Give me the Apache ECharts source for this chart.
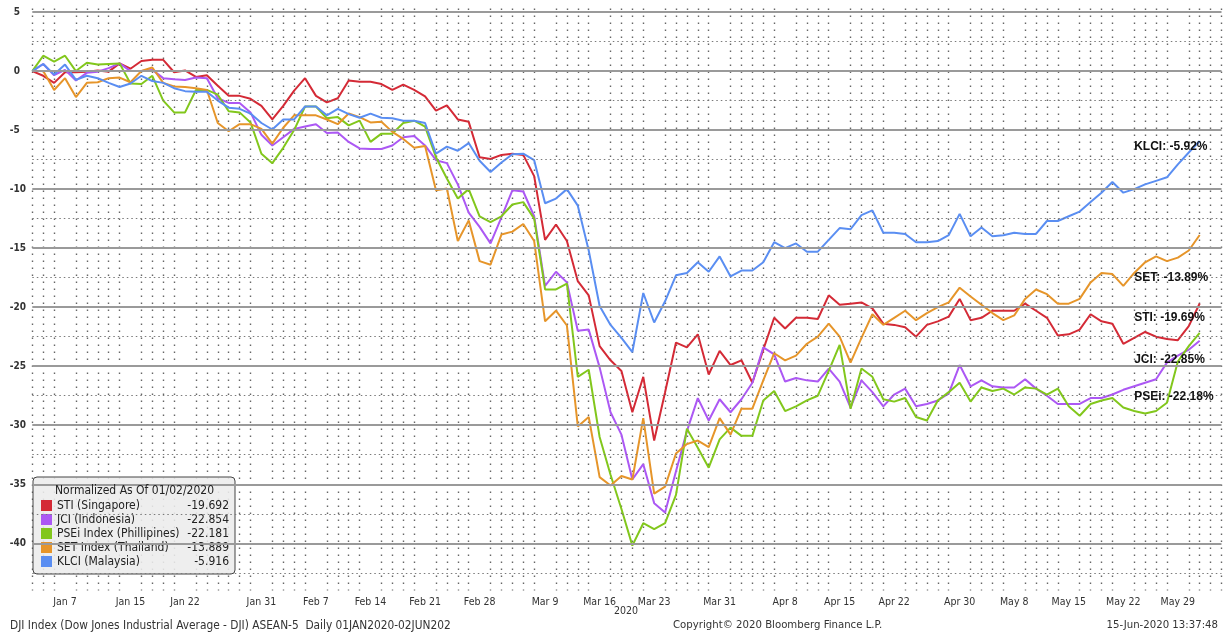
<!DOCTYPE html>
<html>
<head>
<meta charset="utf-8">
<script src="https://cdn.jsdelivr.net/npm/echarts@6/dist/echarts.min.js"></script>
<style>
  html, body { margin: 0; padding: 0; background: #fff; }
  #chart { width: 1223px; height: 635px; }
</style>
</head>
<body>
<div id="chart"></div>
<script>
// ---- categories (trading days on the chart's calendar) ----
const dates = [
  'Jan 2','Jan 3','Jan 6','Jan 7','Jan 8','Jan 9','Jan 10','Jan 13','Jan 14','Jan 15','Jan 16','Jan 17',
  'Jan 20','Jan 21','Jan 22','Jan 23','Jan 24','Jan 27','Jan 28','Jan 29','Jan 30','Jan 31',
  'Feb 3','Feb 4','Feb 5','Feb 6','Feb 7','Feb 10','Feb 11','Feb 12','Feb 13','Feb 14',
  'Feb 17','Feb 18','Feb 19','Feb 20','Feb 21','Feb 24','Feb 25','Feb 26','Feb 27','Feb 28',
  'Mar 2','Mar 3','Mar 4','Mar 5','Mar 6','Mar 9','Mar 10','Mar 11','Mar 12','Mar 13',
  'Mar 16','Mar 17','Mar 18','Mar 19','Mar 20','Mar 23','Mar 24','Mar 25','Mar 26','Mar 27','Mar 30','Mar 31',
  'Apr 1','Apr 2','Apr 3','Apr 6','Apr 7','Apr 8','Apr 9','Apr 10','Apr 13','Apr 14','Apr 15','Apr 16','Apr 17',
  'Apr 20','Apr 21','Apr 22','Apr 23','Apr 24','Apr 27','Apr 28','Apr 29','Apr 30',
  'May 4','May 5','May 6','May 7','May 8','May 11','May 12','May 13','May 14','May 15',
  'May 18','May 19','May 20','May 21','May 22','May 25','May 26','May 27','May 28','May 29',
  'Jun 1','Jun 2'
];
// empty slots after the last day (right margin of the plot)
const padDates = ['Jun 3','Jun 4'];

// ---- tick labels ----
const tickLabels = ['Jan 7','Jan 15','Jan 22','Jan 31','Feb 7','Feb 14','Feb 21','Feb 28','Mar 9','Mar 16',
  'Mar 23','Mar 31','Apr 8','Apr 15','Apr 22','Apr 30','May 8','May 15','May 22','May 29'];
const yearLabel = '2020';
const yTicks = [5, 0, -5, -10, -15, -20, -25, -30, -35, -40];
const yMinorLevels = [2.5, -2.5, -7.5, -12.5, -17.5, -22.5, -27.5, -32.5, -37.5, -42.5];

// ---- series values (% change, normalized to 01/02/2020) ----
const sti = [0, -0.4, -1.0, -0.1, -0.1, -0.05, 0.05, -0.05, 0.65, 0.2,
  0.85, 0.95, 0.95, -0.1, 0.05, -0.5, -0.35, -1.25, -2.1, -2.1,
  -2.35, -2.95, -4.1, -2.95, -1.65, -0.6, -2.1, -2.65, -2.3, -0.8,
  -0.9, -0.9, -1.1, -1.6, -1.15, -1.6, -2.15, -3.35, -2.9, -4.1,
  -4.3, -7.3, -7.45, -7.1, -7.0, -7.1, -8.9, -14.3, -13.0, -14.4,
  -17.8, -19.0, -23.3, -24.5, -25.4, -28.9, -25.9, -31.3, -27.2, -23.0,
  -23.4, -22.3, -25.7, -23.7, -24.9, -24.5, -26.4, -23.6, -20.9, -21.8,
  -20.9, -20.9, -21.0, -19.0, -19.8, -19.7, -19.6, -20.1, -21.4, -21.5,
  -21.7, -22.5, -21.5, -21.2, -20.8, -19.3, -21.1, -20.9, -20.3, -20.3,
  -20.3, -19.7, -20.3, -20.9, -22.4, -22.3, -21.9, -20.6, -21.2, -21.4,
  -23.1, -22.6, -22.1, -22.5, -22.7, -22.8, -21.6, -19.69];
const jci = [0, 0.6, -0.35, 0.1, -0.8, -0.15, -0.05, 0.25, 0.65, 0,
  0, 0.1, -0.6, -0.7, -0.75, -0.55, -0.6, -2.3, -2.7, -2.7,
  -3.5, -5.4, -6.3, -5.6, -4.9, -4.7, -4.5, -5.25, -5.2, -6.0,
  -6.55, -6.6, -6.6, -6.3, -5.6, -5.5, -6.3, -7.55, -7.8, -9.6,
  -12.0, -13.2, -14.6, -12.4, -10.1, -10.2, -12.3, -18.2, -17.0, -17.9,
  -22.0, -21.9, -25.1, -28.9, -30.8, -34.6, -33.3, -36.6, -37.4, -33.9,
  -30.5, -27.7, -29.6, -27.8, -28.9, -27.8, -26.4, -23.4, -24.0, -26.3,
  -26.0, -26.2, -26.3, -25.2, -26.3, -28.5, -26.2, -27.2, -28.4, -27.4,
  -26.9, -28.4, -28.2, -27.9, -27.3, -24.9, -26.7, -26.2, -26.7, -26.8,
  -26.8, -26.1, -26.9, -27.5, -28.2, -28.2, -28.2, -27.7, -27.7, -27.4,
  -27.0, -26.7, -26.4, -26.1, -24.7, -24.1, -23.6, -22.85];
const psei = [0, 1.3, 0.8, 1.3, 0.0, 0.7, 0.55, 0.6, 0.65, -1.05,
  -1.1, -0.4, -2.5, -3.5, -3.5, -1.6, -1.6, -2.0, -3.4, -3.5,
  -4.35, -7.0, -7.8, -6.5, -5.0, -3.0, -3.0, -4.0, -3.9, -4.6,
  -4.2, -6.0, -5.3, -5.3, -4.4, -4.2, -4.7, -7.3, -9.1, -10.8,
  -10.0, -12.3, -12.8, -12.3, -11.3, -11.1, -12.5, -18.5, -18.5, -18.0,
  -25.9, -25.3, -31.0, -34.2, -37.1, -40.2, -38.3, -38.8, -38.3, -35.9,
  -30.3, -31.9, -33.6, -31.2, -30.2, -30.9, -30.9, -27.9, -27.1, -28.8,
  -28.4, -27.9, -27.5, -25.4, -23.2, -28.6, -25.2, -25.9, -27.8, -28.0,
  -27.7, -29.3, -29.6, -27.9, -27.2, -26.4, -28.0, -26.8, -27.1, -26.9,
  -27.4, -26.8, -26.9, -27.4, -26.9, -28.4, -29.2, -28.2, -27.9, -27.7,
  -28.5, -28.8, -29.0, -28.8, -28.1, -24.6, -23.3, -22.18];
const set = [0, 0, -1.6, -0.6, -2.2, -1.0, -0.95, -0.6, -0.55, -0.95,
  0, 0.3, -1.0, -1.3, -1.35, -1.45, -1.6, -4.4, -5.1, -4.5,
  -4.5, -4.9, -6.15, -4.8, -3.75, -3.75, -3.75, -4.1, -4.5, -3.6,
  -3.9, -4.35, -4.3, -5.15, -5.75, -6.5, -6.35, -10.1, -9.95, -14.4,
  -12.65, -16.1, -16.4, -13.85, -13.6, -12.95, -14.4, -21.2, -20.3, -21.55,
  -30.1, -29.3, -34.4, -35.1, -34.3, -34.6, -29.4, -35.8, -35.2, -32.4,
  -31.6, -31.3, -31.85, -29.4, -30.8, -28.6, -28.6, -26.2, -23.9, -24.5,
  -24.1, -23.1, -22.5, -21.4, -22.5, -24.7, -22.6, -20.6, -21.5, -20.9,
  -20.3, -21.1, -20.5, -20.0, -19.6, -18.35, -19.1, -19.8, -20.5, -21.1,
  -20.7, -19.3, -18.5, -18.9, -19.7, -19.7, -19.3, -17.9, -17.1, -17.2,
  -18.2, -17.1, -16.2, -15.7, -16.1, -15.8, -15.2, -13.89];
const klci = [0, 0.6, -0.3, 0.55, -0.75, -0.4, -0.6, -1.0, -1.35, -1.05,
  -0.4, -0.85, -1.0, -1.45, -1.7, -1.75, -1.75, -2.5, -3.1, -3.2,
  -3.6, -4.4, -4.95, -4.1, -4.1, -3.0, -3.0, -3.75, -3.2, -3.65,
  -3.95, -3.6, -3.95, -4.0, -4.2, -4.2, -4.4, -7.0, -6.4, -6.75,
  -6.1, -7.6, -8.55, -7.75, -7.05, -7.0, -7.55, -11.2, -10.8, -10.0,
  -11.4, -15.2, -19.9, -21.5, -22.6, -23.8, -18.8, -21.3, -19.5, -17.3,
  -17.1, -16.2, -17.0, -15.7, -17.4, -16.9, -16.9, -16.2, -14.5, -15.0,
  -14.6, -15.3, -15.3, -14.3, -13.3, -13.4, -12.2, -11.8, -13.7, -13.7,
  -13.8, -14.5, -14.5, -14.4, -13.9, -12.1, -14.0, -13.25, -14.0, -13.9,
  -13.7, -13.8, -13.8, -12.7, -12.7, -12.3, -11.9, -11.1, -10.3, -9.4,
  -10.3, -10.0, -9.6, -9.3, -9.0, -7.9, -6.9, -5.92];

// ---- legend / annotation texts ----
const seriesNames = ['STI (Singapore)', 'JCI (Indonesia)', 'PSEi Index (Phillipines)', 'SET Index (Thailand)', 'KLCI (Malaysia)'];
const legendValues = ['-19.692', '-22.854', '-22.181', '-13.889', '-5.916'];
const endLabels = ['STI: -19.69%', 'JCI: -22.85%', 'PSEi: -22.18%', 'SET: -13.89%', 'KLCI: -5.92%'];
const legendTitle = 'Normalized As Of 01/02/2020';
const footerLeft = 'DJI Index (Dow Jones Industrial Average - DJI) ASEAN-5  Daily 01JAN2020-02JUN202';
const footerMid = 'Copyright\u00a9 2020 Bloomberg Finance L.P.';
const footerRight = '15-Jun-2020 13:37:48';

// ---- styling ----
const seriesValues = [sti, jci, psei, set, klci];
const colors = ['#d42a36', '#ac58f4', '#82c71c', '#e6952a', '#5a8ef2'];
const labelOffsets = [[-66, 14], [-66, 19], [-66, 64], [-66, 43], [-66, 6]];
const F = "'DejaVu Sans Condensed', 'Liberation Sans', sans-serif";

const chart = echarts.init(document.getElementById('chart'), null, { renderer: 'canvas' });
const axisDates = dates.concat(padDates);
const lastDate = dates[dates.length - 1];

const lineSeries = seriesNames.map((name, k) => ({
  name: name,
  type: 'line',
  data: seriesValues[k],
  showSymbol: false,
  symbol: 'none',
  z: 3,
  lineStyle: { color: colors[k], width: 2 },
  itemStyle: { color: colors[k] },
  emphasis: { disabled: true },
  markPoint: {
    silent: true,
    symbol: 'circle',
    symbolSize: 1,
    itemStyle: { color: 'rgba(0,0,0,0)' },
    label: {
      show: true,
      position: 'right',
      distance: 0,
      offset: labelOffsets[k],
      formatter: endLabels[k],
      color: '#111',
      fontWeight: 'bold',
      fontSize: 12,
      fontFamily: "'Liberation Sans', Arial, sans-serif"
    },
    data: [{ coord: [lastDate, seriesValues[k][seriesValues[k].length - 1]] }]
  }
}));

const gridSeries = {
  name: '__grid',
  type: 'line',
  data: [],
  silent: true,
  z: 1,
  markLine: {
    silent: true,
    symbol: 'none',
    animation: false,
    label: { show: false },
    emphasis: { disabled: true },
    data: yTicks.map(v => ({ yAxis: v, lineStyle: { color: '#9a9a9a', width: 1.8, type: 'solid' } }))
      .concat(yMinorLevels.map(v => ({ yAxis: v, lineStyle: { color: '#7a7a7a', width: 1.1, type: [1.5, 3] } })))
  }
};

const option = {
  animation: false,
  backgroundColor: '#ffffff',
  grid: { left: 32.3, right: 1.5, top: 8.5, bottom: 44.5, containLabel: false },
  xAxis: {
    type: 'category',
    data: axisDates,
    boundaryGap: false,
    axisLine: { show: false },
    axisTick: { show: false },
    axisLabel: {
      interval: (i, v) => tickLabels.includes(v),
      color: '#333',
      fontSize: 10.5,
      fontFamily: F,
      margin: 6
    },
    splitLine: {
      show: true,
      interval: (i, v) => !tickLabels.includes(v),
      lineStyle: { color: '#666', width: 1.4, type: [1.5, 5.5] }
    }
  },
  yAxis: {
    type: 'value',
    min: -44,
    max: 5.3,
    axisLine: { show: false },
    axisTick: { show: false },
    splitLine: { show: false },
    axisLabel: {
      customValues: yTicks,
      align: 'left',
      margin: 22.5,
      color: '#333',
      fontSize: 10,
      fontWeight: 'bold',
      fontFamily: F,
      formatter: v => (yTicks.indexOf(v) < 0 ? '' : (v >= 0 ? '{p|' + v + '}' : String(v))),
      rich: { p: { padding: [0, 0, 0, 4], color: '#333', fontSize: 10, fontWeight: 'bold', fontFamily: F } }
    }
  },
  legend: {
    data: seriesNames.map(n => ({ name: n, icon: 'rect' })),
    orient: 'vertical',
    left: 33,
    top: 477,
    itemWidth: 11,
    itemHeight: 11,
    itemGap: 1,
    itemTextGap: 4,
    padding: [22, 6, 6, 8],
    backgroundColor: 'rgba(236,236,236,0.88)',
    borderColor: '#444',
    borderWidth: 1,
    borderRadius: 4,
    selectedMode: false,
    formatter: name => '{n|' + name + '}{v|' + legendValues[seriesNames.indexOf(name)] + '}',
    textStyle: {
      color: '#222',
      fontSize: 12,
      fontFamily: F,
      lineHeight: 13,
      rich: {
        n: { width: 128, fontSize: 12, fontFamily: F, color: '#222', lineHeight: 13 },
        v: { width: 44, align: 'right', fontSize: 12, fontFamily: F, color: '#222', lineHeight: 13 }
      }
    }
  },
  title: [
    { text: footerLeft, left: 10, top: 620, padding: 0, textStyle: { fontSize: 11.8, fontWeight: 'normal', color: '#333', fontFamily: F } },
    { text: footerMid, left: 673, top: 620, padding: 0, textStyle: { fontSize: 11.3, fontWeight: 'normal', color: '#333', fontFamily: F } },
    { text: footerRight, right: 5, top: 620, padding: 0, textStyle: { fontSize: 11.3, fontWeight: 'normal', color: '#333', fontFamily: F } },
    { text: yearLabel, left: 614, top: 606, padding: 0, textStyle: { fontSize: 10.5, fontWeight: 'normal', color: '#333', fontFamily: F } },
    { text: legendTitle, left: 55, top: 485, padding: 0, z: 10, textStyle: { fontSize: 12, fontWeight: 'normal', color: '#222', fontFamily: F } }
  ],
  series: [gridSeries].concat(lineSeries)
};

chart.setOption(option);
</script>
</body>
</html>
